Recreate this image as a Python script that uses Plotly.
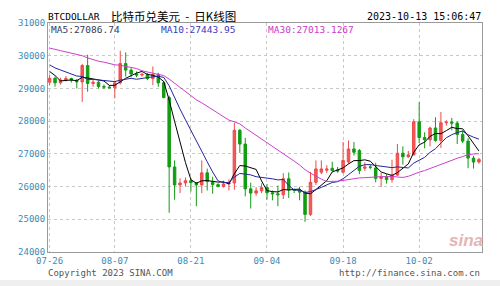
import pandas as pd
import plotly.graph_objects as go

# ---------------- data ----------------
dates = pd.date_range("2023-07-26", "2023-10-13", freq="D")

open_ = [29190, 29310, 29170, 29260, 29300, 29250, 29200, 29700, 29150, 29190,
         29060, 29040, 29020, 29170, 29760, 29560, 29440, 29410, 29430, 29300,
         29430, 29170, 28720, 26600, 26050, 26110, 26180, 26120, 26050, 26420,
         26150, 26060, 26000, 26080, 26110, 27720, 27300, 25930, 25800, 25870,
         25970, 25810, 25780, 25750, 26240, 25900, 25890, 25830, 25150, 26130,
         26440, 26500, 26560, 26510, 26440, 26750, 27150, 27100, 26560, 26600,
         26570, 26250, 26300, 26210, 26350, 27020, 26910, 26970, 27980, 27500,
         27430, 27790, 27410, 27950, 27970, 27940, 27590, 27390, 26870, 26750]
high = [29420, 29360, 29330, 29380, 29330, 29290, 29750, 30030, 29280, 29230,
        29120, 29090, 29240, 30150, 30100, 29620, 29520, 29480, 29470, 29670,
        29480, 29230, 28780, 26800, 26250, 26280, 26250, 26130, 26800, 26550,
        26300, 26100, 26180, 26220, 27950, 27760, 27490, 26120, 25980, 26100,
        26080, 25880, 26030, 26410, 26430, 25940, 25990, 25880, 26450, 26800,
        26800, 26650, 26760, 26600, 27360, 27410, 27360, 27150, 26740, 26660,
        26730, 26420, 26380, 26820, 27300, 27230, 27090, 28060, 28580, 27660,
        27830, 28120, 28280, 28030, 28100, 27990, 27720, 27480, 26940, 26880]
low = [29100, 29050, 29120, 29210, 29180, 29000, 28590, 28900, 29050, 29000,
       28980, 29000, 28700, 29120, 29360, 29340, 29340, 29360, 29250, 29100,
       29050, 28700, 25200, 25600, 25800, 26000, 25850, 25400, 25800, 25880,
       25780, 25980, 25970, 25880, 25900, 27030, 25700, 25330, 25720, 25800,
       25600, 25580, 25400, 25620, 25650, 25800, 25580, 24920, 25100, 26050,
       26380, 26420, 26460, 26420, 26400, 26700, 26950, 26380, 26480, 26530,
       26130, 25990, 26090, 26120, 26320, 26670, 26880, 26950, 27330, 27170,
       27230, 27370, 27180, 27860, 27720, 27300, 27330, 26560, 26550, 26700]
close = [29310, 29170, 29260, 29300, 29250, 29200, 29700, 29150, 29190, 29060,
         29040, 29020, 29170, 29760, 29560, 29440, 29410, 29430, 29300, 29430,
         29170, 28720, 26600, 26050, 26110, 26180, 26120, 26050, 26420, 26150,
         26060, 26000, 26080, 26110, 27720, 27300, 25930, 25800, 25870, 25970,
         25810, 25780, 25750, 26240, 25900, 25890, 25830, 25150, 26130, 26540,
         26540, 26540, 26490, 26480, 26800, 27150, 27050, 26490, 26600, 26590,
         26250, 26300, 26210, 26350, 27020, 26910, 26970, 27980, 27500, 27430,
         27790, 27410, 27950, 27970, 27940, 27590, 27390, 26870, 26750, 26830]

# closes of the 29 days before the window (used only to start the moving averages)
warmup_close = [30690, 30080, 30450, 30470, 30590, 30620, 31160, 30770, 30510, 29900,
                30350, 30290, 30170, 30410, 30620, 30390, 31470, 30320, 30290, 30250,
                30140, 29860, 29910, 29800, 29910, 29800, 30080, 29180, 29230]

ma_periods = [5, 10, 30]
ma_colors = ["#000000", "#25259a", "#cc3fcc"]
ma_labels = ["MA5:27086.74", "MA10:27443.95", "MA30:27013.1267"]
ma_label_colors = ["#3a3a5a", "#3a3ac0", "#c83cc8"]

y_ticks = [24000, 25000, 26000, 27000, 28000, 29000, 30000, 31000]
x_tick_dates = ["2023-07-26", "2023-08-07", "2023-08-21", "2023-09-04", "2023-09-18", "2023-10-02"]
x_tick_labels = ["07-26", "08-07", "08-21", "09-04", "09-18", "10-02"]

title_code = "BTCDOLLAR"
title_cn = "比特币兑美元\u00a0\u00a0-\u00a0\u00a0日K线图"
timestamp = "2023-10-13 15:06:47"
copyright_text = "Copyright 2023 SINA.COM"
url_text = "http://finance.sina.com.cn"

# ---------------- figure ----------------
W, H = 500, 286
L, R, T, B = 48, 18, 23, 34
PW, PH = W - L - R, H - T - B


def px(x):
    return (x - L) / PW


def py(y):
    return 1 - (y - T) / PH


MONO = "DejaVu Sans Mono"
TEAL = "#3d8bb5"

fig = go.Figure()
fig.add_trace(go.Candlestick(
    x=dates, open=open_, high=high, low=low, close=close,
    increasing=dict(line=dict(color="#ee4a4a", width=1), fillcolor="#f05a5a"),
    decreasing=dict(line=dict(color="#129c12", width=1), fillcolor="#129c12"),
    whiskerwidth=0, hoverinfo="skip",
))

full_close = pd.Series(warmup_close + close)
for p, c in zip(ma_periods, ma_colors):
    ma = full_close.rolling(p).mean().iloc[-len(close):].to_numpy()
    fig.add_trace(go.Scatter(x=dates, y=ma, mode="lines",
                             line=dict(color=c, width=1), hoverinfo="skip"))

annotations = []


def ann(text, x, y, xanchor, size, color, family=MONO, **kw):
    annotations.append(dict(text=text, x=px(x), y=py(y), xref="paper", yref="paper",
                            xanchor=xanchor, yanchor="middle", showarrow=False,
                            font=dict(family=family, size=size, color=color), **kw))


ann(title_code, 46, 16.5, "left", 9.5, "#000000")
ann(title_cn, 109, 15.5, "left", 11.5, "#000000", family="Noto Sans CJK SC")
ann(timestamp, 483, 16.5, "right", 10, "#000000")
for lab, col, xl in zip(ma_labels, ma_label_colors, [49, 159, 266]):
    ann(lab, xl, 30, "left", 9.5, col)
ann(copyright_text, 46, 273, "left", 9, "#555555")
ann(url_text, 482, 273, "right", 9, "#555555")
ann("<b><i>sina</i></b>", 466, 240, "center", 17, "#e6b4b4", family="Liberation Sans")

fig.update_layout(
    width=W, height=H,
    margin=dict(l=L, r=R, t=T, b=B, pad=0),
    paper_bgcolor="white", plot_bgcolor="white",
    showlegend=False, boxgap=0.35, hovermode=False,
    annotations=annotations,
    shapes=[dict(type="rect", xref="paper", yref="paper",
                 x0=px(0), x1=px(W), y0=py(H), y1=py(280),
                 fillcolor="#efefef", line=dict(width=0), layer="below")],
    xaxis=dict(
        type="date",
        range=["2023-07-25 16:57", "2023-10-13 13:26"],
        tickvals=x_tick_dates, ticktext=x_tick_labels,
        showgrid=True, gridcolor="#c8c8c8", griddash="dot", gridwidth=1,
        showline=True, linecolor="#9a9a9a", linewidth=1, mirror=True,
        ticks="", zeroline=False,
        tickfont=dict(family=MONO, size=9, color=TEAL),
        rangeslider=dict(visible=False), fixedrange=True,
    ),
    yaxis=dict(
        range=[24000, 31000], tickvals=y_ticks,
        ticktext=[str(v) for v in y_ticks],
        showgrid=True, gridcolor="#c8c8c8", griddash="dot", gridwidth=1,
        showline=True, linecolor="#9a9a9a", linewidth=1, mirror=True,
        ticks="", zeroline=False,
        tickfont=dict(family=MONO, size=9, color=TEAL),
        fixedrange=True,
    ),
)

fig.write_html("out.html", config=dict(displayModeBar=False, staticPlot=True))
